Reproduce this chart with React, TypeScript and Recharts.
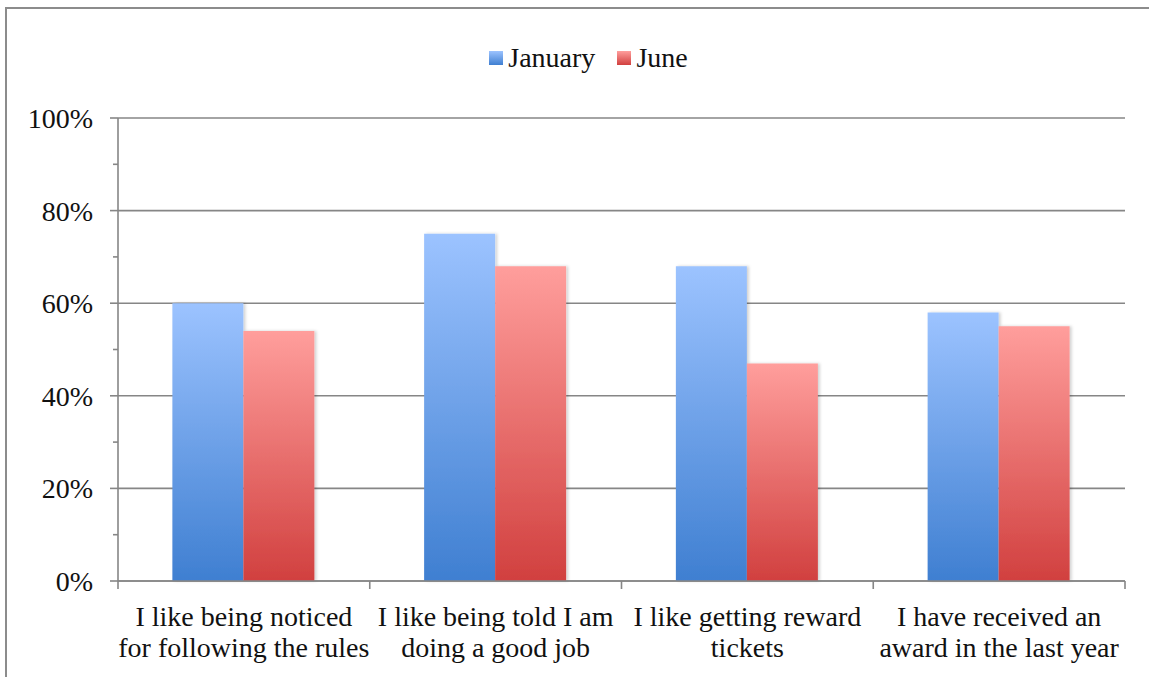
import React from "react";
import { BarChart, Bar, XAxis, YAxis, CartesianGrid, Legend } from "recharts";

const categories = [
  "I like being noticed for following the rules",
  "I like being told I am doing a good job",
  "I like getting reward tickets",
  "I have received an award in the last year",
];
const categoryLines = [
  ["I like being noticed", "for following the rules"],
  ["I like being told I am", "doing a good job"],
  ["I like getting reward", "tickets"],
  ["I have received an", "award in the last year"],
];
const january = [60, 75, 68, 58];
const june = [54, 68, 47, 55];
const seriesNames = ["January", "June"];
const yTicks = [0, 10, 20, 30, 40, 50, 60, 70, 80, 90, 100];
const majorTicks = [0, 20, 40, 60, 80, 100];
const yMax = 100;

const data = categories.map((c, i) => ({
  name: c,
  January: january[i],
  June: june[i],
}));

const W = 1149;
const H = 677;
const MARGIN = { top: 118, right: 24, bottom: 0, left: 0 };
const Y_AXIS_W = 118;
const X_AXIS_H = 96;
const FONT = "'Liberation Serif', 'Times New Roman', serif";
const FS = 28;
const AXIS_COLOR = "#868686";
const BAND = (W - MARGIN.left - Y_AXIS_W - MARGIN.right) / categories.length;

const YTick = (props: any) => {
  const { x, y, payload } = props;
  const v = payload.value;
  const major = majorTicks.includes(v);
  return (
    <g>
      <line x1={x - (major ? 8 : 5)} x2={x} y1={y} y2={y} stroke={AXIS_COLOR} strokeWidth={1.6} />
      {major && (
        <text x={x - 25} y={y} dy={10} textAnchor="end" fontFamily={FONT} fontSize={FS} fill="#111">
          {v + "%"}
        </text>
      )}
    </g>
  );
};

const XTick = (props: any) => {
  const { x, y, payload, index } = props;
  const lines = categoryLines[index] || [payload.value];
  const last = index === categories.length - 1;
  return (
    <g>
      <line x1={x - BAND / 2} x2={x - BAND / 2} y1={y} y2={y + 8} stroke={AXIS_COLOR} strokeWidth={1.6} />
      {last && (
        <line x1={x + BAND / 2} x2={x + BAND / 2} y1={y} y2={y + 8} stroke={AXIS_COLOR} strokeWidth={1.6} />
      )}
      <text x={x} y={y} textAnchor="middle" fontFamily={FONT} fontSize={FS} fill="#111">
        {lines.map((l: string, i: number) => (
          <tspan key={i} x={x} dy={i === 0 ? 45 : 31}>
            {l}
          </tspan>
        ))}
      </text>
    </g>
  );
};

const LegendContent = () => {
  const grads = [
    "linear-gradient(#9cc3ff, #3f7fd1)",
    "linear-gradient(#ff9e9c, #d1403f)",
  ];
  return (
    <div
      style={{
        display: "flex",
        justifyContent: "center",
        alignItems: "center",
        fontFamily: FONT,
        fontSize: FS,
        color: "#111",
        paddingLeft: 28,
      }}
    >
      {seriesNames.map((n, i) => (
        <div key={n} style={{ display: "flex", alignItems: "center", marginRight: i === 0 ? 22 : 0 }}>
          <span
            style={{
              display: "inline-block",
              width: 14,
              height: 14,
              background: grads[i],
              marginRight: 5,
            }}
          />
          <span>{n}</span>
        </div>
      ))}
    </div>
  );
};

const gridGen = (p: any) => {
  const sc = p && p.yAxis && p.yAxis.scale;
  if (typeof sc === "function") return majorTicks.map((v) => sc(v));
  const off = p.offset;
  return majorTicks.map((v) => off.top + off.height * (1 - v / yMax));
};

export default function App() {
  return (
    <div
      style={{
        position: "absolute",
        left: 0,
        top: 0,
        width: W,
        height: H,
        overflow: "hidden",
        background: "#fff",
      }}
    >
      <div
        style={{
          position: "absolute",
          left: 5,
          top: 7,
          width: 1300,
          height: 900,
          borderTop: "2px solid #8c8c8c",
          borderLeft: "2px solid #8c8c8c",
        }}
      />
      <div style={{ position: "absolute", left: 0, top: 0 }}>
        <BarChart
          width={W}
          height={H}
          data={data}
          margin={MARGIN}
          barCategoryGap="21.6%"
          barGap={0}
        >
          <defs>
            <linearGradient id="gBlue" x1="0" y1="0" x2="0" y2="1">
              <stop offset="0%" stopColor="#9cc3ff" />
              <stop offset="100%" stopColor="#3f7fd1" />
            </linearGradient>
            <linearGradient id="gRed" x1="0" y1="0" x2="0" y2="1">
              <stop offset="0%" stopColor="#ff9e9c" />
              <stop offset="100%" stopColor="#d1403f" />
            </linearGradient>
            <filter id="shadow" x="-10%" y="-5%" width="130%" height="110%">
              <feDropShadow dx="2" dy="0" stdDeviation="1.5" floodColor="#000" floodOpacity="0.18" />
            </filter>
          </defs>
          <CartesianGrid
            vertical={false}
            stroke={AXIS_COLOR}
            strokeWidth={1.6}
            horizontalCoordinatesGenerator={gridGen}
          />
          <XAxis
            dataKey="name"
            height={X_AXIS_H}
            tickSize={0}
            tickMargin={0}
            tickLine={false}
            interval={0}
            axisLine={{ stroke: AXIS_COLOR, strokeWidth: 1.6 }}
            tick={<XTick />}
          />
          <YAxis
            width={Y_AXIS_W}
            domain={[0, yMax]}
            ticks={yTicks}
            interval={0}
            tickSize={0}
            tickMargin={0}
            tickLine={false}
            axisLine={{ stroke: AXIS_COLOR, strokeWidth: 1.6 }}
            tick={<YTick />}
          />
          <Legend
            verticalAlign="middle"
            align="center"
            layout="horizontal"
            wrapperStyle={{ top: 42, left: 0, width: W }}
            content={<LegendContent />}
          />
          <Bar dataKey="January" fill="url(#gBlue)" filter="url(#shadow)" isAnimationActive={false} />
          <Bar dataKey="June" fill="url(#gRed)" filter="url(#shadow)" isAnimationActive={false} />
        </BarChart>
      </div>
    </div>
  );
}
